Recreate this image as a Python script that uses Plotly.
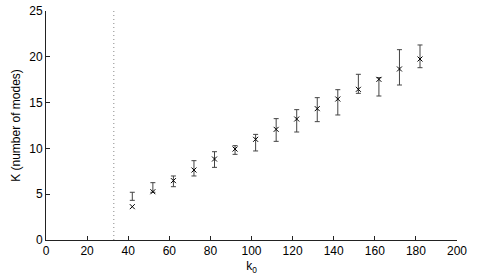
import plotly.graph_objects as go

k0 = [42, 52, 62, 72, 82, 92, 102, 112, 122, 132, 142, 152, 162, 172, 182]
k_modes = [3.64, 5.27, 6.48, 7.64, 8.84, 9.93, 10.99, 12.08, 13.21, 14.34, 15.39, 16.45, 17.54, 18.67, 19.76]
err_low = [4.33, 5.21, 5.82, 6.99, 7.93, 9.35, 9.72, 10.77, 11.79, 12.92, 13.65, 16.01, 15.72, 16.92, 18.81]
err_high = [5.21, 6.26, 6.99, 8.66, 9.64, 10.30, 11.53, 13.25, 14.23, 15.54, 16.41, 18.09, 17.72, 20.78, 21.29]
threshold = 33

x_ticks = [0, 20, 40, 60, 80, 100, 120, 140, 160, 180, 200]
y_ticks = [0, 5, 10, 15, 20, 25]

mid = [(a + b) / 2 for a, b in zip(err_low, err_high)]
half = [(b - a) / 2 for a, b in zip(err_low, err_high)]

fig = go.Figure()
fig.add_trace(go.Scatter(
    x=k0, y=mid, mode="markers",
    marker=dict(size=1, color="rgba(0,0,0,0)"),
    error_y=dict(type="data", array=half, symmetric=True,
                 color="#444444", thickness=1, width=2.5),
    showlegend=False, hoverinfo="skip"))
fig.add_trace(go.Scatter(
    x=k0, y=k_modes, mode="markers",
    marker=dict(symbol="x-thin", size=5, color="black",
                line=dict(width=1, color="black")),
    showlegend=False))

fig.add_shape(type="line", x0=threshold, x1=threshold, y0=0, y1=25,
              xref="x", yref="y",
              line=dict(color="#888888", width=1, dash="1px,3px"))

axis_common = dict(showgrid=False, zeroline=False, showline=True,
                   linecolor="#222222", linewidth=1, ticks="inside",
                   ticklen=4, tickcolor="#222222", mirror=False,
                   automargin=False,
                   tickfont=dict(family="Liberation Sans, Arial", size=12, color="black"))

fig.update_xaxes(range=[0, 200], tickvals=x_ticks, **axis_common,
                 title=dict(text="k<sub>0</sub>", standoff=4,
                            font=dict(family="Liberation Sans, Arial", size=12, color="black")))
fig.update_yaxes(range=[0, 25], tickvals=y_ticks, **axis_common,
                 title=dict(text="K (number of modes)", standoff=6,
                            font=dict(family="Liberation Sans, Arial", size=12, color="black")))

fig.update_layout(width=485, height=277,
                  margin=dict(l=46, r=28, t=11, b=37),
                  plot_bgcolor="white", paper_bgcolor="white")

fig.write_html("out.html", config={"displayModeBar": False},
               post_script="document.body.style.margin='0';document.body.style.padding='0';")
